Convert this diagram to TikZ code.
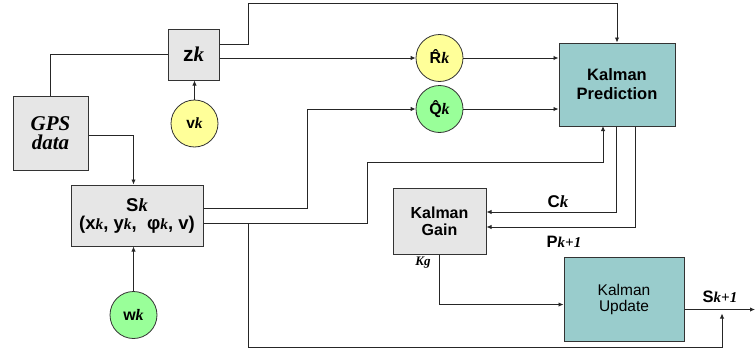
\documentclass[tikz,border=0pt]{standalone}
\usepackage{fontspec}
\setmainfont{Liberation Sans}
\newfontfamily\tms{Liberation Serif}
\usetikzlibrary{arrows.meta}
\newcommand\ik[1]{{\tms\bfseries\itshape #1}}
\newcommand\fs[1]{\fontsize{#1}{#1}\selectfont}
\newcommand\hatted[1]{\leavevmode\ooalign{#1\cr\hidewidth\raisebox{0.14em}{ˆ}\hidewidth\cr}}
\definecolor{boxgray}{HTML}{E6E6E6}
\definecolor{teal2}{HTML}{99CCCC}
\definecolor{yel}{HTML}{FFFF99}
\definecolor{grn}{HTML}{99FF99}
\begin{document}
\begin{tikzpicture}[x=1pt,y=-1pt,
  gbox/.style={draw=black!80, line width=1pt, fill=boxgray, align=center, inner sep=0pt},
  tbox/.style={draw=black!80, line width=1pt, fill=teal2, align=center, inner sep=0pt},
  circ/.style={circle, draw=black!80, line width=0.8pt, minimum size=47pt, inner sep=0pt},
  wire/.style={line width=0.9pt, draw=black!85},
  arr/.style={wire, -{Latex[length=5pt,width=4.5pt]}},
  lab/.style={inner sep=0pt, font=\bfseries}
]
\useasboundingbox (0,0) rectangle (755,356);

% boxes
\node[gbox, minimum width=51pt, minimum height=51pt, font=\fontsize{21}{22}\selectfont] (zk) at (193.5,54.5) {\textbf{z}\ik{k}};
\node[gbox, minimum width=75pt, minimum height=74pt, font=\fontsize{21}{19}\selectfont\tms\bfseries\itshape] (gps) at (50.5,133) {GPS\\data};
\node[gbox, minimum width=132pt, minimum height=61pt, font=\fontsize{18.5}{18}\selectfont\bfseries] (sk) at (137,215.5) {S\ik{k}\\(x{\fs{15.5}\ik{k}}, y{\fs{15.5}\ik{k}}, \ φ{\fs{15.5}\ik{k}}, v)};
\node[tbox, minimum width=116pt, minimum height=83pt, font=\fontsize{16.5}{19}\selectfont\bfseries] (kp) at (617,84.5) {Kalman\\Prediction};
\node[gbox, minimum width=93pt, minimum height=66pt, font=\fontsize{16}{17}\selectfont\bfseries] (kg) at (439.5,221) {Kalman\\Gain};
\node[tbox, minimum width=120pt, minimum height=84pt, font=\fontsize{15.5}{16}\selectfont] (ku) at (624,299) {Kalman\\Update};

% circles
\node[circ, fill=yel, font=\fontsize{15.5}{16}\selectfont\bfseries] (vk) at (194.5,123.5) {v\ik{k}};
\node[circ, fill=yel, font=\fontsize{16}{16}\selectfont\bfseries] (rk) at (439.5,58) {\hatted{R}\ik{k}};
\node[circ, fill=grn, font=\fontsize{16}{16}\selectfont\bfseries] (qk) at (439.5,109) {\hatted{Q}\ik{k}};
\node[circ, fill=grn, font=\fontsize{16}{16}\selectfont\bfseries] (wk) at (133.5,315) {w\ik{k}};

% connectors
\draw[wire] (gps.north) |- (zk.west);
\draw[arr] ([yshift=-2pt]gps.east) -| ([xshift=-3.5pt]sk.north);
\draw[arr] (vk.north) -- (vk.north |- zk.south);
\draw[arr] (wk.north) -- (wk.north |- sk.south);

\draw[arr] ([yshift=10.5pt]zk.east) -- ++(29,0) |- (617,3) -- (kp.north);
\draw[arr] ([yshift=-3.5pt]zk.east) -- (rk.west);
\draw[arr] (rk.east) -- (rk.east -| kp.west);
\draw[arr] (qk.east) -- (qk.east -| kp.west);
\draw[arr] ([yshift=7.5pt]sk.east) -- ++(104,0) |- (qk.west);
\coordinate (skb) at ([yshift=-7.5pt]sk.east);
\draw[arr] (skb) -- ++(164,0) |- (603,162) -- (603,126);
\coordinate (out) at (755,309.5);
\draw[arr] (skb -| 248,0) -- (248,347) -| (722,313.5);

\draw[arr] ([xshift=-1pt]kp.south) |- ([yshift=9pt]kg.east);
\draw[arr] ([xshift=18pt]kp.south) |- ([yshift=-6pt]kg.east);
\draw[arr] (kg.south) |- ([yshift=-5.5pt]ku.west);
\draw[arr] ([yshift=-10.5pt]ku.east) -- (out);

% labels
\node[lab, font=\fontsize{17}{17}\selectfont\bfseries] (lck) at (558,202) {C\ik{k}};
\node[lab, font=\fontsize{16.5}{17}\selectfont\bfseries] (lpk) at (564,242) {P{\fs{15}\ik{k+1}}};
\node[lab, font=\fontsize{13}{13}\selectfont] (lkg) at (423,263) {\ik{Kg}};
\node[lab, font=\fontsize{16.5}{17}\selectfont\bfseries] (lsk) at (720,297) {S{\fs{15}\ik{k+1}}};
\end{tikzpicture}
\end{document}
